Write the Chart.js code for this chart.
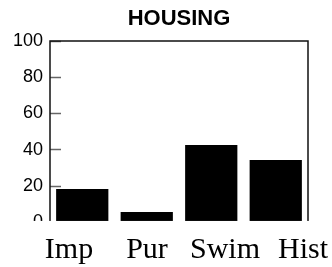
<!DOCTYPE html>
<html>
<head>
<meta charset="utf-8">
<script src="https://cdn.jsdelivr.net/npm/chart.js@4"></script>
<style>
html,body{margin:0;padding:0;background:#fff;}
#wrap{width:332px;height:267px;position:relative;}
</style>
</head>
<body>
<div id="wrap"><canvas id="c" width="332" height="267"></canvas></div>
<script>
const titleText = 'HOUSING';
const categories = ['Imp', 'Pur', 'Swim', 'Hist'];
const values = [18.3, 5.7, 42.6, 34.3];
const yTicks = [0, 20, 40, 60, 80, 100];
const labelPositions = [1, 2, 3, 4];

const framePlugin = {
  id: 'frame',
  afterDatasetsDraw(chart) {
    const {ctx, chartArea: a} = chart;
    ctx.save();
    ctx.strokeStyle = '#111';
    ctx.lineWidth = 1.5;
    ctx.beginPath();
    ctx.moveTo(a.left, a.bottom);
    ctx.lineTo(a.left, a.top);
    ctx.lineTo(a.right, a.top);
    ctx.lineTo(a.right, a.bottom);
    ctx.stroke();
    ctx.restore();
  },
  afterDraw(chart) {
    const {ctx, scales} = chart;
    const top = scales.y.getPixelForValue(0) - 1.3;
    const bottom = scales.x2.top + 12;
    ctx.save();
    ctx.fillStyle = '#fff';
    ctx.fillRect(0, top, chart.width, bottom - top);
    ctx.restore();
  }
};

new Chart(document.getElementById('c'), {
  type: 'bar',
  data: {
    labels: categories,
    datasets: [{
      data: values,
      backgroundColor: '#000',
      borderWidth: 0,
      barPercentage: 0.81,
      categoryPercentage: 1.0,
      xAxisID: 'x',
      yAxisID: 'y'
    }]
  },
  options: {
    responsive: false,
    animation: false,
    devicePixelRatio: 1,
    layout: { padding: { top: 0, left: 0, right: 24, bottom: 0 } },
    plugins: {
      legend: { display: false },
      tooltip: { enabled: false },
      title: {
        display: true,
        text: titleText,
        fullSize: false,
        color: '#000',
        font: { family: 'Liberation Sans, Arial, sans-serif', size: 22, weight: 'bold' },
        padding: { top: 6, bottom: 8.6 }
      }
    },
    scales: {
      x: {
        type: 'category',
        display: false
      },
      x2: {
        type: 'linear',
        position: 'bottom',
        offset: false,
        min: 0.756,
        max: 4.064,
        afterBuildTicks(axis) {
          axis.ticks = labelPositions.map(v => ({ value: v }));
        },
        afterFit(axis) {
          axis.height = 267 - 222.25;
          axis.paddingLeft = 0;
          axis.paddingRight = 0;
        },
        grid: { display: false, drawTicks: false, offset: false },
        border: { display: false },
        ticks: {
          autoSkip: false,
          maxRotation: 0,
          padding: 10,
          color: '#000',
          font: { family: 'Liberation Serif, Times New Roman, serif', size: 30 },
          callback: (v) => categories[labelPositions.indexOf(v)]
        }
      },
      y: {
        type: 'linear',
        min: 0,
        max: 100,
        afterBuildTicks(axis) {
          axis.ticks = yTicks.map(v => ({ value: v }));
        },
        afterFit(axis) { axis.width = 50; },
        grid: {
          display: true,
          drawOnChartArea: false,
          drawTicks: true,
          tickLength: -11,
          tickColor: '#666',
          tickWidth: 1.5
        },
        border: { display: false },
        ticks: {
          padding: 18,
          color: '#000',
          font: { family: 'Liberation Sans, Arial, sans-serif', size: 18 }
        }
      }
    }
  },
  plugins: [framePlugin]
});
</script>
</body>
</html>
